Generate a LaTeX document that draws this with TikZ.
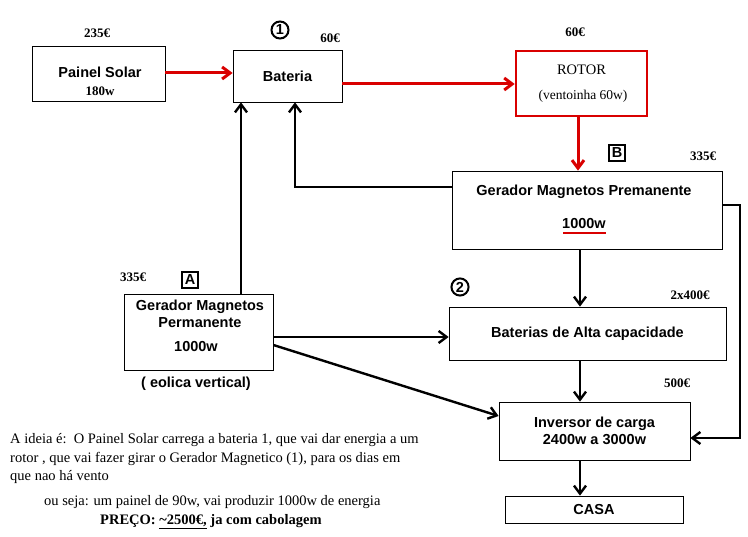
\documentclass[tikz,border=0pt]{standalone}
\usepackage{fontspec}
\setmainfont{Liberation Serif}
\setsansfont{Liberation Sans}
\usetikzlibrary{arrows.meta}
\begin{document}
\begin{tikzpicture}[x=1pt,y=-1pt,
    box/.style={draw, line width=0.8pt, inner sep=0pt},
    lbl/.style={font=\sffamily\bfseries\fontsize{14.5}{17}\selectfont, align=center},
    price/.style={font=\bfseries\fontsize{13}{15}\selectfont},
    conn/.style={-{Straight Barb[length=8pt,width=12pt]}, line width=2.4pt},
    redconn/.style={conn, draw=red!85!black, line width=3pt},
    txt/.style={font=\fontsize{14.5}{17}\selectfont, anchor=west, inner sep=0pt}]
    \useasboundingbox (0,0) rectangle (748,537);

    % boxes
    \node[box, minimum width=133pt, minimum height=55pt] (solar) at (98.5,73.5) {};
    \node[lbl] at (100,72) {Painel Solar};
    \node[price] at (100,91) {180w};
    \node[box, minimum width=109pt, minimum height=52pt, lbl] (bat) at (287.5,76) {Bateria};
    \node[box, draw=red!85!black, line width=2.6pt, minimum width=131pt, minimum height=65pt] (rotor) at (581.5,83.5) {};
    \node[font=\fontsize{14.5}{17}\selectfont] at (581.5,70) {ROTOR};
    \node[font=\fontsize{13.5}{16}\selectfont] at (583,96) {(ventoinha 60w)};
    \node[box, minimum width=270pt, minimum height=78pt] (genb) at (587,210) {};
    \node[lbl] at (584,192) {Gerador Magnetos Premanente};
    \node[lbl] (kwb) at (584,224) {1000w};
    \draw[red!85!black, line width=2.4pt] (563,233) -- (606,233);
    \node[box, minimum width=149pt, minimum height=76pt] (gena) at (198.5,332) {};
    \node[lbl] at (200,314) {Gerador Magnetos\\Permanente};
    \node[lbl] at (196,347) {1000w};
    \node[lbl] at (196,384) {( eolica vertical)};
    \node[box, minimum width=277pt, minimum height=53pt, lbl] (bats) at (587.5,333.5) {Baterias de Alta capacidade};
    \node[box, minimum width=191pt, minimum height=58pt, lbl] (inv) at (594.5,431) {Inversor de carga\\2400w a 3000w};
    \node[box, minimum width=178pt, minimum height=27pt, lbl] (casa) at (594,509.5) {CASA};

    % prices and marks
    \node[price] at (97,33) {235€};
    \node[price] at (330,38) {60€};
    \node[price] at (575,32) {60€};
    \node[price] at (703,156) {335€};
    \node[price] at (133,277) {335€};
    \node[price] at (690,295) {2x400€};
    \node[price] at (677,383) {500€};
    \node[circle, draw, line width=2pt, inner sep=1.5pt, lbl] at (280,30) {1};
    \node[circle, draw, line width=2pt, inner sep=1.5pt, lbl] at (460,287) {2};
    \node[draw, line width=2pt, inner sep=3pt, lbl] at (190,280) {A};
    \node[draw, line width=2pt, inner sep=3pt, lbl] at (617,153) {B};

    % connectors
    \draw[redconn] (solar.east |- 0,73) -- (bat.west |- 0,73);
    \draw[redconn] (bat.east |- 0,84) -- (rotor.west |- 0,84);
    \draw[redconn] (rotor.south -| 578,0) -- (genb.north -| 578,0);
    \draw[conn] (genb.west |- 0,187) -| (bat.south -| 295,0);
    \draw[conn] (gena.north -| 241,0) -- (bat.south -| 241,0);
    \draw[conn] (genb.south -| 580,0) -- (bats.north -| 580,0);
    \draw[conn] (gena.east |- 0,337) -- (bats.west |- 0,337);
    \draw[conn] (gena.east |- 0,345) -- (inv.west |- 0,416);
    \draw[conn] (bats.south -| 580,0) -- (inv.north -| 580,0);
    \draw[conn] (genb.east |- 0,205) -| (740,438) -- (inv.east |- 0,438);
    \draw[conn] (inv.south -| 580,0) -- (casa.north -| 580,0);

    % notes
    \node[txt] at (10,440) {A ideia é:\ \ O Painel Solar carrega a bateria 1, que vai dar energia a um};
    \node[txt] at (10,459) {rotor , que vai fazer girar o Gerador Magnetico (1), para os dias em};
    \node[txt] at (10,477) {que nao há vento};
    \node[txt] at (44,502) {ou seja: um painel de 90w, vai produzir 1000w de energia};
    \node[txt, font=\bfseries\fontsize{14.5}{17}\selectfont] at (100,522) {PREÇO: \underline{\textasciitilde2500€,} ja com cabolagem};
\end{tikzpicture}
\end{document}
